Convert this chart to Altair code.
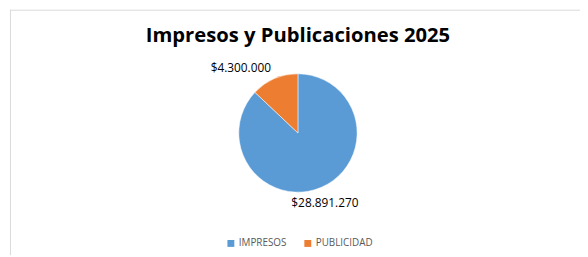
import altair as alt
import pandas as pd

categories = ["IMPRESOS", "PUBLICIDAD"]
values = [28891270, 4300000]
labels = ["$28.891.270", "$4.300.000"]
title_text = "Impresos y Publicaciones 2025"
colors = ["#5B9BD5", "#ED7D31"]

df = pd.DataFrame({"cat": categories, "value": values, "label": labels,
                   "order": list(range(len(categories)))})

CX, CY, R = 294, 125, 60

base = alt.Chart(df).transform_joinaggregate(
    total="sum(value)"
).transform_window(
    cum="sum(value)", sort=[alt.SortField("order")]
).transform_calculate(
    f0="(datum.cum - datum.value) / datum.total",
    f1="datum.cum / datum.total",
    fm="(datum.cum - datum.value / 2) / datum.total",
)

tscale = alt.Scale(domain=[0, 1])

pie = base.mark_arc(radius=R, stroke="white", strokeWidth=0.5).encode(
    theta=alt.Theta("f0:Q", scale=tscale),
    theta2="f1:Q",
    x=alt.value(CX), y=alt.value(CY),
    color=alt.Color("cat:N", scale=alt.Scale(domain=categories, range=colors),
                    legend=alt.Legend(orient="none", legendX=221, legendY=232,
                                      direction="horizontal", title=None,
                                      symbolType="square", symbolSize=49,
                                      symbolStrokeWidth=0, labelFontSize=10,
                                      labelFont="Open Sans", labelColor="#595959",
                                      labelOffset=3, columnPadding=16, padding=0)),
)

lab1 = base.transform_filter(alt.datum.order == 0).mark_text(
    radius=64, align="center", baseline="top", dx=2, dy=7, font="Open Sans", fontSize=12, color="#000000"
).encode(theta=alt.Theta("fm:Q", scale=tscale), x=alt.value(CX), y=alt.value(CY), text="label:N")

lab2 = base.transform_filter(alt.datum.order == 1).mark_text(
    radius=64, align="right", baseline="bottom", dx=-2, font="Open Sans", fontSize=12, color="#000000"
).encode(theta=alt.Theta("fm:Q", scale=tscale), x=alt.value(CX), y=alt.value(CY), text="label:N")

title = alt.Chart(pd.DataFrame({"t": [title_text]})).mark_text(
    font="Open Sans", fontSize=20.5, fontWeight="bold", color="#000000", align="center", baseline="alphabetic"
).encode(text="t:N", x=alt.value(294), y=alt.value(33))

border_top = alt.Chart(pd.DataFrame({"a": [0]})).mark_rule(color="#d9d9d9", strokeWidth=1).encode(
    x=alt.value(2), x2=alt.value(580), y=alt.value(0.5))
border_left = alt.Chart(pd.DataFrame({"a": [0]})).mark_rule(color="#d9d9d9", strokeWidth=1).encode(
    x=alt.value(2.5), y=alt.value(0), y2=alt.value(249))

chart = alt.layer(border_top, border_left, pie, lab1, lab2, title).properties(
    width=580, height=249, autosize=alt.AutoSizeParams(type="none"), padding=0
).configure_view(stroke=None)

chart.save("out.html", embed_options={"renderer": "svg", "actions": False})
